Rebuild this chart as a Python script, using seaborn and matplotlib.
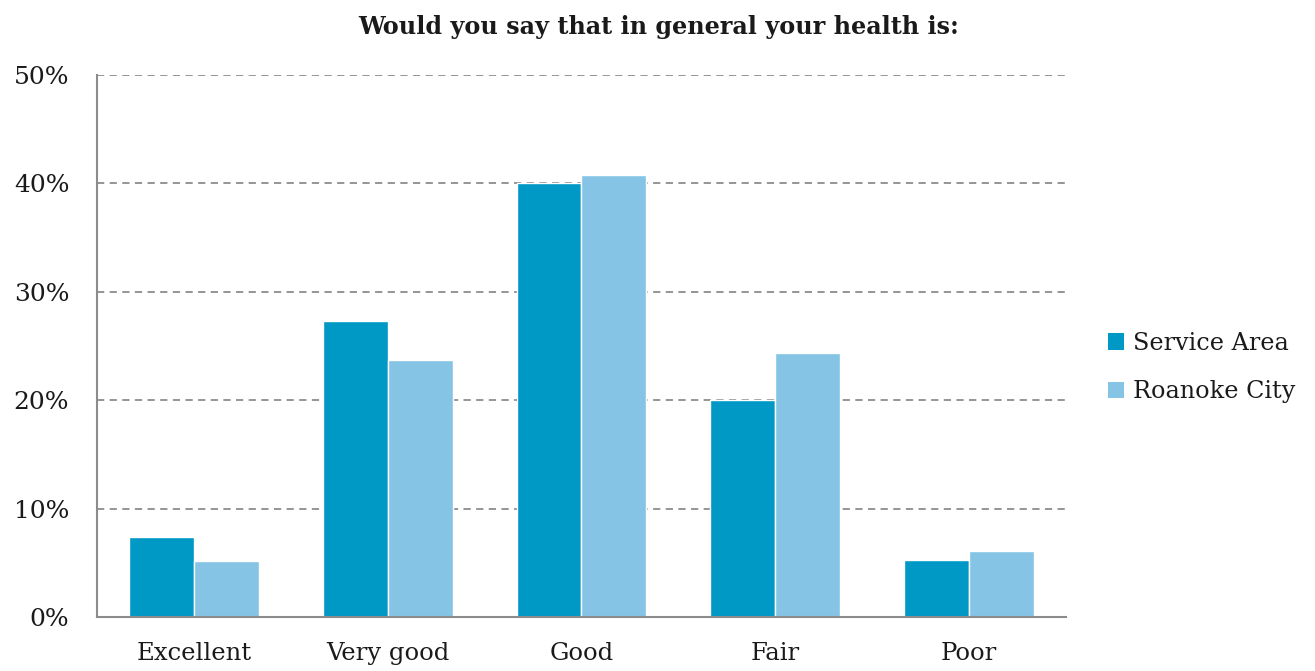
import matplotlib
matplotlib.use("Agg")
import matplotlib.pyplot as plt
import seaborn as sns
import pandas as pd
from matplotlib.patches import Patch

categories = ["Excellent", "Very good", "Good", "Fair", "Poor"]
series_names = ["Service Area", "Roanoke City"]
service_area = [7.4, 27.3, 40.0, 20.0, 5.3]
roanoke_city = [5.2, 23.7, 40.8, 24.4, 6.1]
y_ticks = [0, 10, 20, 30, 40, 50]
y_tick_labels = ["0%", "10%", "20%", "30%", "40%", "50%"]
title = "Would you say that in general your health is:"

colors = ["#0099C6", "#85C4E5"]

df = pd.DataFrame({
    "cat": categories * 2,
    "series": [series_names[0]] * len(categories) + [series_names[1]] * len(categories),
    "val": service_area + roanoke_city,
})

sns.set_theme(style="white")
plt.rcParams["font.family"] = ["DejaVu Serif", "Liberation Serif"]

fig = plt.figure(figsize=(13.15, 6.71), dpi=100)
ax = fig.add_axes([0.0738, 0.0805, 0.7368, 0.8077])

sns.barplot(data=df, x="cat", y="val", hue="series", palette=colors,
            width=0.67, gap=0, ax=ax, legend=False, saturation=1)

ax.set_xlim(-0.5, 4.5)
ax.set_ylim(0, 50)
ax.set_yticks(y_ticks)
ax.set_yticklabels(y_tick_labels, fontsize=18, color="#1a1a1a")
ax.tick_params(axis="x", labelsize=17.5, length=0, pad=18, labelcolor="#1a1a1a")
ax.tick_params(axis="y", length=0, pad=20)
ax.set_xlabel("")
ax.set_ylabel("")
for y in y_ticks[1:]:
    ax.axhline(y, color="#8c8c8c", linestyle=(0, (4, 3)), linewidth=1.3, zorder=0)
ax.set_axisbelow(True)
for s in ["top", "right"]:
    ax.spines[s].set_visible(False)
for s in ["left", "bottom"]:
    ax.spines[s].set_color("#8c8c8c")
    ax.spines[s].set_linewidth(1.5)

handles = [Patch(facecolor=c, edgecolor="none") for c in colors]
fig.legend(handles, series_names, loc="center left", bbox_to_anchor=(0.826, 0.452),
           frameon=False, fontsize=17.2, handlelength=0.7, handleheight=0.7,
           handletextpad=0.35, labelspacing=1.05, labelcolor="#1a1a1a")

fig.text(0.501, 0.96, title, ha="center", va="center", fontsize=17.2,
         fontweight="bold", color="#1a1a1a")

fig.savefig("out.png", dpi=100)
